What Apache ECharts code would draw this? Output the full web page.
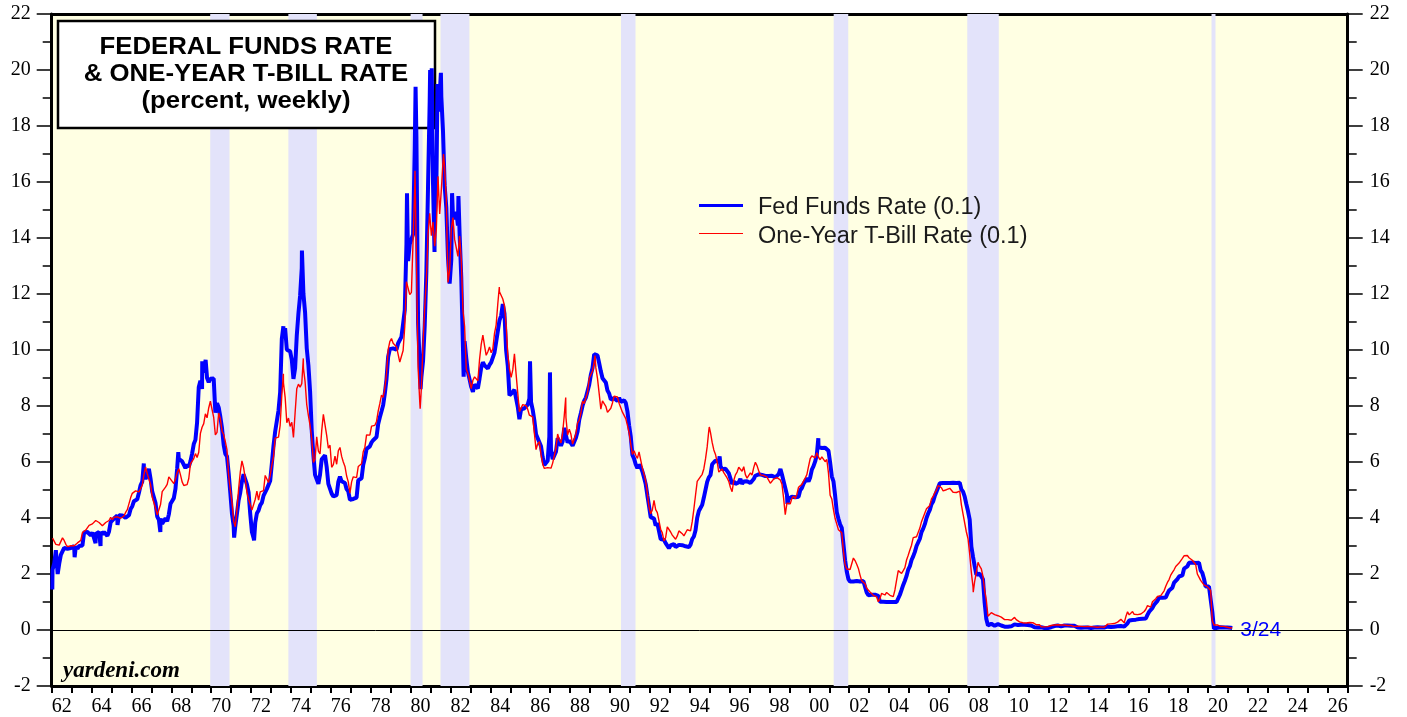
<!DOCTYPE html>
<html>
<head>
<meta charset="utf-8">
<title>Federal Funds Rate &amp; One-Year T-Bill Rate</title>
<script src="https://cdn.jsdelivr.net/npm/echarts@6/dist/echarts.min.js"></script>
<style>
    html, body { margin: 0; padding: 0; background: #fff; }
    #chart { width: 1407px; height: 717px; }
</style>
</head>
<body>
<div id="chart"></div>
<script>
// Monthly readings, one row per year, first value = January.
var ff60s = [1962, [
    2.15, 2.37, 2.85, 2.78, 2.36, 2.68, 2.71, 2.93, 2.90, 2.90, 2.94, 2.93,
    2.92, 3.00, 2.98, 2.90, 3.00, 2.99, 3.02, 3.49, 3.48, 3.50, 3.48, 3.38,
    3.48, 3.48, 3.43, 3.47, 3.50, 3.50, 3.42, 3.50, 3.45, 3.36, 3.52, 3.85,
    3.90, 3.98, 4.04, 4.09, 4.10, 4.04, 4.09, 4.12, 4.01, 4.08, 4.10, 4.32,
    4.42, 4.60, 4.65, 4.67, 4.90, 5.17, 5.30, 5.53, 5.40, 5.53, 5.76, 5.40,
    4.94, 5.00, 4.53, 4.05, 3.94, 3.98, 3.79, 3.90, 3.99, 3.88, 4.13, 4.51,
    4.61, 4.71, 5.05, 5.76, 6.11, 6.07, 6.02, 6.03, 5.78, 5.91, 5.82, 6.02,
    6.30, 6.64, 6.79, 7.41, 8.67, 8.90, 8.61, 9.19, 9.15, 9.00, 8.85, 8.97
]];
var ff70s = [1970, [
    8.98, 8.98, 7.76, 8.10, 7.95, 7.61, 7.21, 6.61, 6.29, 6.20, 5.60, 4.90,
    4.14, 3.72, 3.71, 4.16, 4.63, 4.91, 5.31, 5.56, 5.55, 5.20, 4.91, 4.14,
    3.50, 3.29, 3.83, 4.17, 4.27, 4.46, 4.55, 4.80, 4.87, 5.04, 5.06, 5.33,
    5.94, 6.58, 7.09, 7.12, 7.84, 8.49, 10.40, 10.50, 10.78, 10.01, 10.03, 9.95,
    9.65, 8.97, 9.35, 10.51, 11.31, 11.93, 12.92, 12.01, 11.34, 10.06, 9.45, 8.53,
    7.13, 6.24, 5.54, 5.49, 5.22, 5.55, 6.10, 6.14, 6.24, 5.82, 5.22, 5.20,
    4.87, 4.77, 4.84, 4.82, 5.29, 5.48, 5.31, 5.29, 5.25, 5.03, 4.95, 4.65,
    4.61, 4.68, 4.69, 4.73, 5.35, 5.39, 5.42, 5.90, 6.14, 6.47, 6.51, 6.56,
    6.70, 6.78, 6.79, 6.89, 7.36, 7.60, 7.81, 8.04, 8.45, 8.96, 9.76, 10.03,
    10.07, 10.06, 10.09, 10.01, 10.24, 10.29, 10.47, 10.94, 11.43, 13.77, 13.18, 13.78
]];
var ff80s = [1980, [
    13.82, 14.13, 17.19, 17.61, 10.98, 9.47, 9.03, 9.61, 10.87, 12.81, 15.85, 18.90,
    19.08, 15.93, 14.70, 15.72, 18.52, 19.10, 19.04, 17.82, 15.87, 15.08, 13.31, 12.37,
    13.22, 14.78, 14.68, 14.94, 14.45, 14.15, 12.59, 10.12, 10.31, 9.71, 9.20, 8.95,
    8.68, 8.51, 8.77, 8.80, 8.63, 8.98, 9.37, 9.56, 9.45, 9.48, 9.34, 9.47,
    9.56, 9.59, 9.91, 10.29, 10.32, 11.06, 11.23, 11.64, 11.30, 9.99, 9.43, 8.38,
    8.35, 8.50, 8.58, 8.27, 7.97, 7.53, 7.88, 7.90, 7.92, 7.99, 8.05, 8.27,
    8.14, 7.86, 7.48, 6.99, 6.85, 6.92, 6.56, 6.17, 5.89, 5.85, 6.04, 6.91,
    6.43, 6.10, 6.13, 6.37, 6.85, 6.73, 6.58, 6.73, 7.22, 7.29, 6.69, 6.77,
    6.83, 6.58, 6.58, 6.87, 7.09, 7.51, 7.75, 8.01, 8.19, 8.30, 8.35, 8.76,
    9.12, 9.36, 9.85, 9.84, 9.81, 9.53, 9.24, 8.99, 9.02, 8.84, 8.55, 8.45
]];
var ff90s = [1990, [
    8.23, 8.24, 8.28, 8.26, 8.18, 8.29, 8.15, 8.13, 8.20, 8.11, 7.81, 7.31,
    6.91, 6.25, 6.12, 5.91, 5.78, 5.90, 5.82, 5.66, 5.45, 5.21, 4.81, 4.43,
    4.03, 4.06, 3.98, 3.73, 3.82, 3.76, 3.25, 3.30, 3.22, 3.10, 3.09, 2.92,
    3.02, 3.03, 3.07, 2.96, 3.00, 3.04, 3.06, 3.03, 3.09, 2.99, 3.02, 2.96,
    3.05, 3.25, 3.34, 3.56, 4.01, 4.25, 4.26, 4.47, 4.73, 4.76, 5.29, 5.45,
    5.53, 5.92, 5.98, 6.05, 6.01, 6.00, 5.85, 5.74, 5.80, 5.76, 5.80, 5.60,
    5.56, 5.22, 5.31, 5.22, 5.24, 5.27, 5.40, 5.22, 5.30, 5.24, 5.31, 5.29,
    5.25, 5.19, 5.39, 5.51, 5.50, 5.56, 5.52, 5.54, 5.54, 5.50, 5.52, 5.50,
    5.56, 5.51, 5.49, 5.45, 5.49, 5.56, 5.54, 5.55, 5.51, 5.07, 4.83, 4.68,
    4.63, 4.76, 4.81, 4.74, 4.74, 4.76, 4.99, 5.07, 5.22, 5.20, 5.42, 5.30
]];
var ff00s = [2000, [
    5.45, 5.73, 5.85, 6.02, 6.27, 6.53, 6.54, 6.50, 6.52, 6.51, 6.51, 6.40,
    5.98, 5.49, 5.31, 4.80, 4.21, 3.97, 3.77, 3.65, 3.07, 2.49, 2.09, 1.82,
    1.73, 1.74, 1.73, 1.75, 1.75, 1.75, 1.73, 1.74, 1.75, 1.75, 1.34, 1.24,
    1.24, 1.26, 1.25, 1.26, 1.26, 1.22, 1.01, 1.03, 1.01, 1.01, 1.00, 0.98,
    1.00, 1.01, 1.00, 1.00, 1.00, 1.03, 1.26, 1.43, 1.61, 1.76, 1.93, 2.16,
    2.28, 2.50, 2.63, 2.79, 3.00, 3.04, 3.26, 3.50, 3.62, 3.78, 4.00, 4.16,
    4.29, 4.49, 4.59, 4.79, 4.94, 4.99, 5.24, 5.25, 5.25, 5.25, 5.25, 5.24,
    5.25, 5.26, 5.26, 5.25, 5.25, 5.25, 5.26, 5.02, 4.94, 4.76, 4.49, 4.24,
    3.94, 2.98, 2.61, 2.28, 1.98, 2.00, 2.01, 2.00, 1.81, 0.97, 0.39, 0.16,
    0.15, 0.22, 0.18, 0.15, 0.18, 0.21, 0.16, 0.16, 0.15, 0.12, 0.12, 0.12
]];
var ff10s = [2010, [
    0.11, 0.13, 0.16, 0.20, 0.20, 0.18, 0.18, 0.19, 0.19, 0.19, 0.19, 0.18,
    0.17, 0.16, 0.14, 0.10, 0.09, 0.09, 0.07, 0.10, 0.08, 0.07, 0.08, 0.07,
    0.08, 0.10, 0.13, 0.14, 0.16, 0.16, 0.16, 0.13, 0.14, 0.16, 0.16, 0.16,
    0.14, 0.15, 0.14, 0.15, 0.11, 0.09, 0.09, 0.08, 0.08, 0.09, 0.08, 0.09,
    0.07, 0.07, 0.08, 0.09, 0.09, 0.10, 0.09, 0.09, 0.09, 0.09, 0.09, 0.12,
    0.11, 0.11, 0.11, 0.12, 0.12, 0.13, 0.13, 0.14, 0.14, 0.12, 0.12, 0.24,
    0.34, 0.38, 0.36, 0.37, 0.37, 0.38, 0.39, 0.40, 0.40, 0.40, 0.41, 0.54,
    0.65, 0.66, 0.79, 0.90, 0.91, 1.04, 1.15, 1.16, 1.15, 1.15, 1.16, 1.30,
    1.41, 1.42, 1.51, 1.69, 1.70, 1.82, 1.91, 1.91, 1.95, 2.19, 2.20, 2.27,
    2.40, 2.40, 2.41, 2.42, 2.39, 2.38, 2.40, 2.13, 2.04, 1.83, 1.55, 1.55
]];
var ff20s = [2020, [
    1.55, 1.58, 0.65, 0.05, 0.05, 0.08, 0.09, 0.10, 0.09, 0.09, 0.09, 0.09,
    0.09, 0.08, 0.07
]];
// single-week spikes seen on the thick blue line: [year, percent]
var ffWeekly = [
    [1962.03, 1.45], [1962.30, 2.00], [1963.15, 2.60], [1964.20, 3.10], [1964.45, 3.00],
    [1965.30, 3.75], [1966.62, 5.95], [1967.45, 3.50], [1968.35, 6.35], [1969.55, 9.60],
    [1969.72, 9.65], [1971.15, 3.30], [1972.15, 3.20], [1973.62, 10.85], [1974.55, 13.55],
    [1979.82, 15.60], [1980.25, 19.40], [1980.50, 8.60], [1980.98, 20.00], [1981.06, 20.06],
    [1981.20, 13.50], [1981.35, 19.50], [1981.52, 19.90], [1982.08, 15.60], [1982.40, 15.50],
    [1982.66, 9.05], [1985.99, 9.60], [1986.99, 9.20], [1995.50, 6.20], [1998.55, 5.75],
    [1998.90, 4.50], [2000.45, 6.85]
];

var tb60s = [1962, [
    3.28, 3.28, 3.06, 2.99, 3.03, 3.03, 3.29, 3.20, 3.06, 2.98, 3.00, 3.01,
    3.04, 3.01, 3.03, 3.11, 3.12, 3.20, 3.48, 3.53, 3.57, 3.64, 3.74, 3.81,
    3.79, 3.78, 3.91, 3.91, 3.84, 3.83, 3.72, 3.74, 3.84, 3.86, 3.91, 4.02,
    3.94, 4.03, 4.06, 4.04, 4.03, 3.99, 3.98, 4.07, 4.20, 4.30, 4.37, 4.72,
    4.88, 4.94, 4.97, 4.90, 4.93, 4.97, 5.17, 5.54, 5.82, 5.58, 5.54, 5.20,
    4.75, 4.71, 4.35, 4.11, 4.15, 4.48, 4.94, 4.96, 5.10, 5.20, 5.47, 5.49,
    5.31, 5.23, 5.39, 5.62, 5.76, 5.54, 5.29, 5.16, 5.13, 5.19, 5.41, 5.93,
    5.98, 6.12, 6.30, 6.16, 6.35, 7.02, 7.24, 7.37, 7.72, 7.58, 7.93, 8.17
]];
var tb70s = [1970, [
    8.10, 7.59, 6.97, 7.06, 7.75, 7.55, 7.10, 6.98, 6.73, 6.43, 5.51, 5.00,
    4.57, 3.89, 3.69, 4.30, 5.04, 5.64, 6.04, 5.80, 5.41, 4.91, 4.67, 4.60,
    4.28, 4.27, 4.67, 4.96, 4.64, 4.93, 4.96, 4.98, 5.52, 5.52, 5.27, 5.52,
    5.89, 6.19, 6.85, 6.85, 6.89, 7.31, 8.39, 8.82, 8.31, 7.40, 7.57, 7.27,
    7.42, 6.88, 7.76, 8.62, 8.78, 8.67, 8.80, 9.36, 8.87, 8.05, 7.66, 7.31,
    6.83, 5.98, 6.11, 6.90, 6.39, 6.29, 7.11, 7.70, 7.75, 6.95, 6.49, 6.60,
    5.81, 5.91, 6.21, 5.92, 6.40, 6.52, 6.20, 6.00, 5.84, 5.50, 5.29, 4.89,
    5.29, 5.47, 5.50, 5.44, 5.84, 5.80, 5.94, 6.37, 6.53, 6.97, 6.95, 6.96,
    7.28, 7.34, 7.31, 7.45, 7.82, 8.09, 8.39, 8.31, 8.64, 9.14, 10.01, 10.30,
    10.41, 10.24, 10.25, 10.12, 10.12, 9.57, 9.64, 9.98, 10.84, 12.44, 12.39, 11.98
]];
var tb80s = [1980, [
    12.06, 13.92, 15.82, 13.30, 9.39, 8.16, 8.65, 10.24, 11.52, 12.49, 14.15, 14.88,
    14.08, 14.57, 13.71, 14.32, 16.20, 14.86, 15.72, 16.72, 16.52, 15.38, 12.41, 12.85,
    14.32, 14.73, 13.95, 13.98, 13.34, 14.07, 13.24, 11.43, 10.85, 9.32, 9.16, 8.91,
    8.62, 8.92, 9.04, 8.98, 8.90, 9.66, 10.20, 10.53, 10.16, 9.81, 9.94, 10.11,
    9.90, 10.04, 10.59, 10.90, 11.66, 12.08, 12.03, 11.82, 11.58, 10.90, 9.82, 9.33,
    9.02, 9.29, 9.86, 9.14, 8.46, 7.80, 7.86, 8.05, 8.07, 8.01, 7.88, 7.67,
    7.73, 7.61, 7.03, 6.44, 6.65, 6.73, 6.27, 5.93, 5.77, 5.72, 5.80, 5.87,
    5.78, 5.96, 6.03, 6.50, 7.00, 6.80, 6.68, 7.03, 7.67, 7.59, 6.96, 7.17,
    6.99, 6.64, 6.71, 7.01, 7.40, 7.49, 7.75, 8.17, 8.09, 8.11, 8.48, 8.99,
    9.05, 9.25, 9.57, 9.36, 8.98, 8.44, 7.89, 8.18, 8.22, 7.99, 7.77, 7.72
]];
var tb90s = [1990, [
    7.92, 8.11, 8.35, 8.40, 8.32, 8.10, 7.94, 7.78, 7.76, 7.55, 7.31, 7.05,
    6.64, 6.27, 6.40, 6.24, 6.13, 6.36, 6.31, 5.78, 5.57, 5.33, 4.89, 4.38,
    4.15, 4.29, 4.63, 4.30, 4.19, 4.17, 3.60, 3.47, 3.18, 3.30, 3.68, 3.71,
    3.50, 3.39, 3.33, 3.24, 3.36, 3.54, 3.47, 3.44, 3.36, 3.39, 3.58, 3.61,
    3.54, 3.87, 4.32, 4.82, 5.31, 5.27, 5.48, 5.56, 5.76, 6.11, 6.54, 7.14,
    7.05, 6.70, 6.43, 6.27, 6.00, 5.64, 5.59, 5.75, 5.62, 5.59, 5.43, 5.31,
    5.09, 4.94, 5.34, 5.54, 5.64, 5.81, 5.85, 5.67, 5.83, 5.55, 5.42, 5.47,
    5.61, 5.53, 5.80, 5.99, 5.87, 5.69, 5.54, 5.56, 5.52, 5.46, 5.46, 5.53,
    5.24, 5.31, 5.39, 5.38, 5.44, 5.41, 5.36, 5.21, 4.71, 4.12, 4.53, 4.52,
    4.51, 4.70, 4.78, 4.69, 4.85, 5.10, 5.03, 5.20, 5.25, 5.43, 5.55, 5.84
]];
var tb00s = [2000, [
    6.12, 6.22, 6.22, 6.15, 6.33, 6.17, 6.08, 6.18, 6.13, 6.01, 6.09, 5.60,
    4.81, 4.68, 4.30, 3.98, 3.78, 3.58, 3.62, 3.47, 2.82, 2.33, 2.18, 2.22,
    2.16, 2.23, 2.57, 2.48, 2.35, 2.20, 1.96, 1.76, 1.72, 1.65, 1.49, 1.45,
    1.36, 1.30, 1.24, 1.27, 1.18, 1.01, 1.12, 1.31, 1.24, 1.25, 1.34, 1.31,
    1.24, 1.24, 1.19, 1.43, 1.78, 2.12, 2.10, 2.02, 2.12, 2.23, 2.50, 2.67,
    2.86, 3.03, 3.30, 3.32, 3.33, 3.36, 3.64, 3.87, 3.85, 4.18, 4.33, 4.35,
    4.45, 4.68, 4.77, 4.90, 5.00, 5.16, 5.22, 5.08, 4.97, 5.01, 5.01, 4.94,
    5.06, 5.05, 4.92, 4.93, 4.91, 4.96, 4.96, 4.47, 4.14, 4.10, 3.50, 3.26,
    2.71, 2.05, 1.54, 1.74, 2.06, 2.42, 2.28, 2.18, 1.91, 1.42, 1.07, 0.49,
    0.44, 0.62, 0.64, 0.55, 0.50, 0.51, 0.48, 0.46, 0.40, 0.37, 0.31, 0.37
]];
var tb10s = [2010, [
    0.35, 0.35, 0.40, 0.45, 0.37, 0.32, 0.29, 0.26, 0.26, 0.23, 0.25, 0.29,
    0.27, 0.29, 0.26, 0.25, 0.19, 0.18, 0.19, 0.11, 0.10, 0.11, 0.11, 0.12,
    0.12, 0.16, 0.19, 0.18, 0.19, 0.19, 0.19, 0.18, 0.18, 0.18, 0.18, 0.16,
    0.15, 0.16, 0.15, 0.12, 0.12, 0.14, 0.12, 0.13, 0.12, 0.12, 0.12, 0.13,
    0.12, 0.12, 0.13, 0.11, 0.10, 0.10, 0.11, 0.11, 0.11, 0.10, 0.13, 0.21,
    0.20, 0.22, 0.25, 0.23, 0.24, 0.28, 0.30, 0.38, 0.37, 0.26, 0.48, 0.65,
    0.54, 0.53, 0.66, 0.56, 0.59, 0.55, 0.51, 0.57, 0.59, 0.66, 0.74, 0.87,
    0.83, 0.82, 1.01, 1.04, 1.12, 1.20, 1.22, 1.23, 1.28, 1.40, 1.56, 1.70,
    1.80, 1.96, 2.06, 2.15, 2.27, 2.33, 2.39, 2.45, 2.56, 2.65, 2.70, 2.66,
    2.58, 2.55, 2.49, 2.43, 2.34, 2.00, 1.96, 1.77, 1.80, 1.61, 1.57, 1.55
]];
var tb20s = [2020, [
    1.53, 1.41, 0.33, 0.18, 0.16, 0.18, 0.15, 0.13, 0.13, 0.13, 0.12, 0.10,
    0.10, 0.07, 0.08
]];
var tbWeekly = [
    [1973.62, 9.15], [1974.62, 9.70], [1980.22, 16.40], [1980.48, 7.90], [1981.65, 17.00],
    [1984.45, 12.25], [1987.78, 8.30], [1989.25, 9.80], [1994.98, 7.25], [2008.22, 1.35]
];

// NBER recessions as drawn (shaded bands): [start, end]
var recessions = [
    [1969.95, 1970.92], [1973.87, 1975.30], [1980.00, 1980.60], [1981.50, 1982.95],
    [1990.55, 1991.28], [2001.22, 2001.95], [2007.92, 2009.50], [2020.17, 2020.37]
];

var seriesNames = ['Fed Funds Rate (0.1)', 'One-Year T-Bill Rate (0.1)'];
var titleLines = ['FEDERAL FUNDS RATE', '& ONE-YEAR T-BILL RATE', '(percent, weekly)'];
var lastDate = '3/24';
var sourceNote = 'yardeni.com';
var yearRange = [1962, 2027];
var rateRange = [-2, 22];

;(function () {

    'use strict';

    var monthly = function (block) {
        return block[1].map(function (v, i) {
            return [block[0] + (i + 0.5) / 12, v];
        });
    };

    var buildSeries = function (blocks, weekly) {
        var pts = [];
        blocks.forEach(function (b) {
            pts = pts.concat(monthly(b));
        });
        pts = pts.concat(weekly);
        pts.sort(function (a, b) { return a[0] - b[0]; });
        return pts;
    };

    var ffData = buildSeries([ff60s, ff70s, ff80s, ff90s, ff00s, ff10s, ff20s], ffWeekly);
    var tbData = buildSeries([tb60s, tb70s, tb80s, tb90s, tb00s, tb10s, tb20s], tbWeekly);

    var serif = '"Liberation Serif", "Times New Roman", serif';
    var sans = '"Liberation Sans", Arial, sans-serif';

    // year labels sit in the middle of each year, ticks on the year boundaries
    var yearLabel = function (v) {
        var yr = Math.floor(v + 1e-6);
        if (Math.abs(v - yr - 0.5) > 1e-6 || yr % 2 !== 0) {
            return '';
        }
        return String(yr % 100).padStart(2, '0');
    };

    var yAxisFor = function (pos, margin) {
        return {
            type: 'value',
            position: pos,
            min: rateRange[0],
            max: rateRange[1],
            interval: 2,
            axisLine: { show: true, onZero: false, lineStyle: { color: '#000', width: 3 } },
            axisTick: { show: true, length: 15, lineStyle: { color: '#000', width: 1.5 } },
            minorTick: { show: true, splitNumber: 2, length: 9, lineStyle: { color: '#000', width: 1.5 } },
            axisLabel: { margin: margin, color: '#000', fontFamily: serif, fontSize: 20 },
            splitLine: { show: false },
            minorSplitLine: { show: false }
        };
    };

    var chart = echarts.init(document.getElementById('chart'));

    var option = {
        animation: false,
        backgroundColor: '#ffffff',
        grid: {
            left: 51.7, right: 59.3, top: 14, bottom: 31,
            show: true, backgroundColor: '#ffffe3', borderWidth: 0,
            outerBoundsMode: 'none'
        },
        xAxis: [
            {
                type: 'value', position: 'bottom',
                min: yearRange[0], max: yearRange[1], interval: 1,
                axisLine: { onZero: false, lineStyle: { color: '#000', width: 3 } },
                axisTick: { show: true, length: 7, lineStyle: { color: '#000', width: 2 } },
                axisLabel: { show: false },
                splitLine: { show: false }
            },
            {
                type: 'value', position: 'bottom',
                min: yearRange[0], max: yearRange[1], interval: 0.5,
                axisLine: { show: false, onZero: false },
                axisTick: { show: false },
                axisLabel: { margin: 11, color: '#000', fontFamily: serif, fontSize: 20, formatter: yearLabel },
                splitLine: { show: false }
            },
            {
                type: 'value', position: 'top',
                min: yearRange[0], max: yearRange[1],
                axisLine: { onZero: false, lineStyle: { color: '#000', width: 3 } },
                axisTick: { show: false },
                axisLabel: { show: false },
                splitLine: { show: false }
            }
        ],
        yAxis: [yAxisFor('left', 21), yAxisFor('right', 22)],
        series: [
            {
                name: 'bands',
                type: 'line',
                data: [],
                silent: true,
                z: 1,
                markArea: {
                    silent: true,
                    itemStyle: { color: '#e3e3fa' },
                    data: recessions.map(function (r) {
                        return [{ xAxis: r[0] }, { xAxis: r[1] }];
                    })
                },
                markLine: {
                    silent: true,
                    symbol: 'none',
                    label: { show: false },
                    lineStyle: { color: '#000', width: 1, type: 'solid' },
                    data: [{ yAxis: 0 }]
                }
            },
            {
                name: seriesNames[0],
                type: 'line',
                data: ffData,
                symbol: 'none',
                z: 3,
                lineStyle: { color: '#0000ff', width: 4 },
                itemStyle: { color: '#0000ff' },
                endLabel: {
                    show: true,
                    formatter: lastDate,
                    color: '#0000ff',
                    fontFamily: sans,
                    fontSize: 21,
                    distance: 8,
                    offset: [0, 2]
                }
            },
            {
                name: seriesNames[1],
                type: 'line',
                data: tbData,
                symbol: 'none',
                z: 4,
                lineStyle: { color: '#ff0000', width: 1.4 },
                itemStyle: { color: '#ff0000' }
            }
        ],
        graphic: [
            {
                type: 'rect', x: 58, y: 21, z: 2,
                shape: { width: 377, height: 107 },
                style: { fill: '#ffffff', stroke: '#000000', lineWidth: 2.5 }
            },
            {
                type: 'text', x: 246, y: 74.5, z: 2, scaleX: 1.12,
                style: {
                    text: titleLines.join('\n'),
                    font: 'bold 23px ' + sans,
                    fill: '#000',
                    align: 'center', verticalAlign: 'middle',
                    textAlign: 'center', textVerticalAlign: 'middle',
                    lineHeight: 27
                }
            },
            {
                type: 'line', z: 5,
                shape: { x1: 699, y1: 205.5, x2: 743, y2: 205.5 },
                style: { stroke: '#0000ff', lineWidth: 3 }
            },
            {
                type: 'line', z: 5,
                shape: { x1: 699, y1: 233.5, x2: 743, y2: 233.5 },
                style: { stroke: '#ff0000', lineWidth: 1.2 }
            },
            {
                type: 'text', x: 758, y: 208, z: 5,
                style: {
                    text: seriesNames[0], font: '23.5px ' + sans, fill: '#1a1a1a',
                    verticalAlign: 'middle', textVerticalAlign: 'middle'
                }
            },
            {
                type: 'text', x: 758, y: 236.5, z: 5,
                style: {
                    text: seriesNames[1], font: '23.5px ' + sans, fill: '#1a1a1a',
                    verticalAlign: 'middle', textVerticalAlign: 'middle'
                }
            },
            {
                type: 'text', x: 63, y: 671, z: 5,
                style: {
                    text: sourceNote, font: 'italic bold 23px ' + serif, fill: '#000',
                    verticalAlign: 'middle', textVerticalAlign: 'middle'
                }
            }
        ]
    };

    chart.setOption(option);

}());
</script>
</body>
</html>
